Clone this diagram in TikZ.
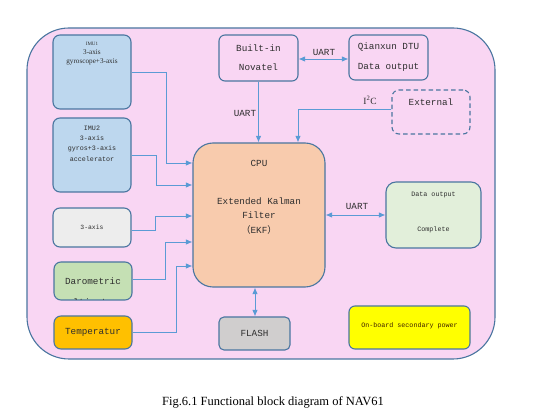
\documentclass[tikz,border=0pt]{standalone}
\usepackage{fontspec}
\setmainfont{Liberation Serif}
\newfontfamily\monof{Liberation Mono}
\newfontfamily\cjkf{Noto Sans CJK SC}
\usetikzlibrary{arrows.meta}
\definecolor{pinkbg}{HTML}{F9D6F3}
\definecolor{bord}{HTML}{4A76A0}
\definecolor{arrc}{HTML}{5B9BD5}
\definecolor{imublue}{HTML}{BDD7EE}
\definecolor{axgray}{HTML}{EDEDED}
\definecolor{barogreen}{HTML}{C5E0B4}
\definecolor{temporange}{HTML}{FFC000}
\definecolor{cpuorange}{HTML}{F8CBAD}
\definecolor{datgreen}{HTML}{E2EFDA}
\definecolor{flashgray}{HTML}{D0CECE}
\definecolor{powyellow}{HTML}{FFFF00}
\definecolor{txt}{HTML}{2E2E2E}
\tikzset{
  blk/.style={draw=bord, line width=1.1pt, rounded corners=7pt, inner sep=0pt},
  arr/.style={draw=arrc, line width=0.9pt, -{Latex[length=6.5pt,width=5.5pt]}},
  darr/.style={draw=arrc, line width=0.9pt, {Latex[length=6.5pt,width=5.5pt]}-{Latex[length=6.5pt,width=5.5pt]}},
  bigt/.style={text=txt, font=\monof\fontsize{9.3}{11}\selectfont, inner sep=0pt},
  smallt/.style={text=txt, font=\monof\fontsize{6.7}{8}\selectfont, inner sep=0pt},
  sert/.style={text=txt, font=\fontsize{7.2}{8.5}\selectfont, inner sep=0pt},
}
\begin{document}
\begin{tikzpicture}[x=1pt,y=-1pt]
\useasboundingbox (0,0) rectangle (539,414);
\fill[white] (0,0) rectangle (539,414);
% outer board
\draw[draw=bord, fill=pinkbg, line width=1.1pt, rounded corners=42pt] (27,28) rectangle (495,359);

% boxes
\node[blk, fill=imublue, minimum width=78pt, minimum height=74pt] (imu1) at (92,72) {};
\node[blk, fill=imublue, minimum width=78pt, minimum height=74pt] (imu2) at (92,155) {};
\node[blk, fill=axgray, minimum width=78pt, minimum height=39pt] (ax) at (92,227.5) {};
\node[blk, fill=barogreen, minimum width=78pt, minimum height=38pt] (baro) at (93,281) {};
\node[blk, fill=temporange, minimum width=78pt, minimum height=33pt] (temp) at (93,332.5) {};
\node[blk, fill=cpuorange, rounded corners=20pt, minimum width=132pt, minimum height=144pt] (cpu) at (259,215) {};
\node[blk, fill=datgreen, rounded corners=10pt, minimum width=95pt, minimum height=66pt] (dat) at (433.5,215) {};
\node[blk, fill=flashgray, rounded corners=5pt, minimum width=71pt, minimum height=33pt] (flash) at (254.5,333.5) {};
\node[blk, fill=powyellow, rounded corners=6pt, minimum width=121pt, minimum height=43pt] (pow) at (409.5,327.5) {};
\node[blk, rounded corners=6pt, minimum width=79pt, minimum height=46pt] (nov) at (258.5,58) {};
\node[blk, rounded corners=6pt, minimum width=79pt, minimum height=45pt] (qx) at (388.5,57.5) {};
\node[blk, dashed, dash pattern=on 4.5pt off 3pt, rounded corners=7pt, minimum width=78pt, minimum height=44pt] (ext) at (431,112) {};

% texts
\node[sert, font=\fontsize{5}{6}\selectfont] (imu1a) at (92,44) {IMU1};
\node[sert] (imu1b) at (92,52.5) {3-axis};
\node[sert] (imu1c) at (92,62) {gyroscope+3-axis};
\node[smallt] (imu2a) at (92,128) {IMU2};
\node[smallt] (imu2b) at (92,138) {3-axis};
\node[smallt] (imu2c) at (92,149) {gyros+3-axis};
\node[smallt] (imu2d) at (92,159) {accelerator};
\node[smallt, font=\monof\fontsize{6.4}{8}\selectfont] (axt) at (92,227) {3-axis};
\node[bigt] (barot) at (93,281) {Darometric};
\begin{scope}
\clip (54.5,262.5) rectangle (131.5,299.5);
\node[bigt] (barot2) at (93,302) {altimeter};
\end{scope}
\node[bigt] (tempt) at (93,332.5) {Temperatur};
\node[bigt] (cpua) at (259,163) {CPU};
\node[bigt] (cpub) at (259,201) {Extended Kalman};
\node[bigt] (cpuc) at (259,215.5) {Filter};
\node[bigt] (cpud) at (259,230) {{\cjkf （}EKF{\cjkf ）}};
\node[smallt] (data) at (433.5,195) {Data output};
\node[smallt] (datb) at (433.5,230) {Complete};
\node[bigt] (flasht) at (254.5,333.5) {FLASH};
\node[smallt, text=black!75!orange] (powt) at (409.5,325.5) {On-board secondary power};
\node[bigt] (nova) at (258.5,48) {Built-in};
\node[bigt] (novb) at (258.5,67.5) {Novatel};
\node[bigt] (qxa) at (388.5,47) {Qianxun DTU};
\node[bigt] (qxb) at (388.5,67) {Data output};
\node[bigt] (extt) at (431,102) {External};

% labels
\node[bigt] (l1) at (324,52) {UART};
\node[bigt] (l2) at (245,113) {UART};
\node[bigt, font=\fontsize{9.5}{11}\selectfont] (l3) at (370,100) {I\textsuperscript{2}C};
\node[bigt] (l4) at (357,206) {UART};

% connectors
\draw[arr] (imu1.east) -- (166,72) -- (166,163) -- (cpu.west |- 166,163);
\draw[arr] (imu2.east) -- (156,155) -- (156,185) -- (cpu.west |- 156,185);
\draw[arr] (ax.east |- 0,230) -- (155,230) -- (155,216) -- (cpu.west |- 155,216);
\draw[arr] (baro.east |- 0,279) -- (165,279) -- (165,242) -- (cpu.west |- 165,242);
\draw[arr] (temp.east) -- (176,332.5) -- (176,266) -- (cpu.west |- 176,266);
\draw[arr] (nov.south) -- (nov.south |- cpu.north);
\draw[arr] (ext.west |- 0,109) -- (298,109) -- (cpu.north -| 298,0);
\draw[darr] (nov.east |- 0,59) -- (qx.west |- 0,59);
\draw[darr] (cpu.east) -- (dat.west);
\draw[darr] (cpu.south -| 255,0) -- (flash.north -| 255,0);

% caption
\node[inner sep=0pt, font=\fontsize{12.5}{15}\selectfont] (cap) at (273,402) {Fig.6.1 Functional block diagram of NAV61};
\end{tikzpicture}
\end{document}
